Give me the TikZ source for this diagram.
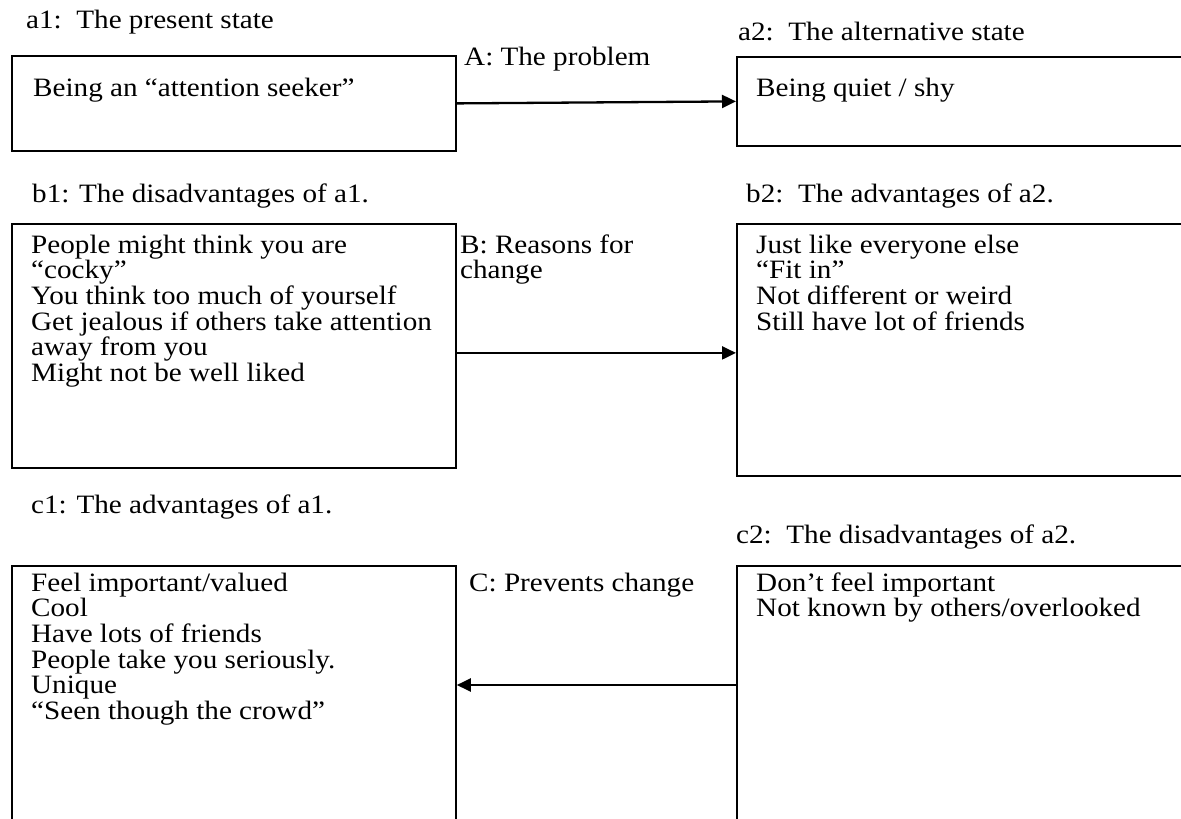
\documentclass[tikz,border=0pt]{standalone}
\usepackage{fontspec}
\setmainfont{Liberation Serif}[FakeStretch=1.10]
\usetikzlibrary{arrows.meta}
% left-aligned lines, baseline of the block = baseline of its first line
\newcommand\stack[1]{\vtop{\baselineskip=25.7pt\halign{##\hfil\cr#1\crcr}}}
\begin{document}
\begin{tikzpicture}[x=1pt,y=-1pt,
  every node/.style={inner sep=0pt, font=\fontsize{26.5}{25.7}\selectfont},
  panel/.style={draw, line width=1.8pt, rectangle, anchor=north west},
  txt/.style={anchor=base west},
  link/.style={line width=2.3pt, -{Triangle[length=14pt,width=13pt]}}]
\useasboundingbox (0,0) rectangle (1181,819);
\clip (0,0) rectangle (1181,819);

% boxes
\node[panel, minimum width=444pt, minimum height=95pt]  (a1) at (11,55)  {};
\node[panel, minimum width=460pt, minimum height=89pt]  (a2) at (736,56) {};
\node[panel, minimum width=444pt, minimum height=244pt] (b1) at (11,223) {};
\node[panel, minimum width=460pt, minimum height=252pt] (b2) at (736,223) {};
\node[panel, minimum width=444pt, minimum height=300pt] (c1) at (11,565) {};
\node[panel, minimum width=460pt, minimum height=300pt] (c2) at (736,565) {};

% headings
\node[txt] (a1h) at (26,28)  {a1:\ \ The present state};
\node[txt] (a2h) at (738,40) {a2:\ \ The alternative state};
\node[txt] (b1h) at (32,202) {b1: The disadvantages of a1.};
\node[txt] (b2h) at (746,202) {b2:\ \ The advantages of a2.};
\node[txt] (c1h) at (31,513) {c1: The advantages of a1.};
\node[txt] (c2h) at (736,543) {c2:\ \ The disadvantages of a2.};

% box contents
\node[txt] (a1t) at (33,96) {Being an “attention seeker”};
\node[txt] (a2t) at (756,96) {Being quiet / shy};
\node[txt] (b1t) at (31,253) {\stack{People might think you are\cr
  “cocky”\cr
  You think too much of yourself\cr
  Get jealous if others take attention\cr
  away from you\cr
  Might not be well liked}};
\node[txt] (b2t) at (756,253) {\stack{Just like everyone else\cr
  “Fit in”\cr
  Not different or weird\cr
  Still have lot of friends}};
\node[txt] (c1t) at (31,591) {\stack{Feel important/valued\cr
  Cool\cr
  Have lots of friends\cr
  People take you seriously.\cr
  Unique\cr
  “Seen though the crowd”}};
\node[txt] (c2t) at (756,591) {\stack{Don’t feel important\cr
  Not known by others/overlooked}};

% connector labels
\node[txt] (lA) at (464,65)  {A: The problem};
\node[txt] (lB) at (460,253) {\stack{B: Reasons for\cr change}};
\node[txt] (lC) at (469,591) {C: Prevents change};

% connectors
\draw[link] (a1.east) -- (a2.west);
\draw[link] ([yshift=-7pt]b1.east) -- ([yshift=-3pt]b2.west);
\draw[link] ([yshift=-120pt]c2.north west) -- ([yshift=-120pt]c1.north east);
\end{tikzpicture}
\end{document}
